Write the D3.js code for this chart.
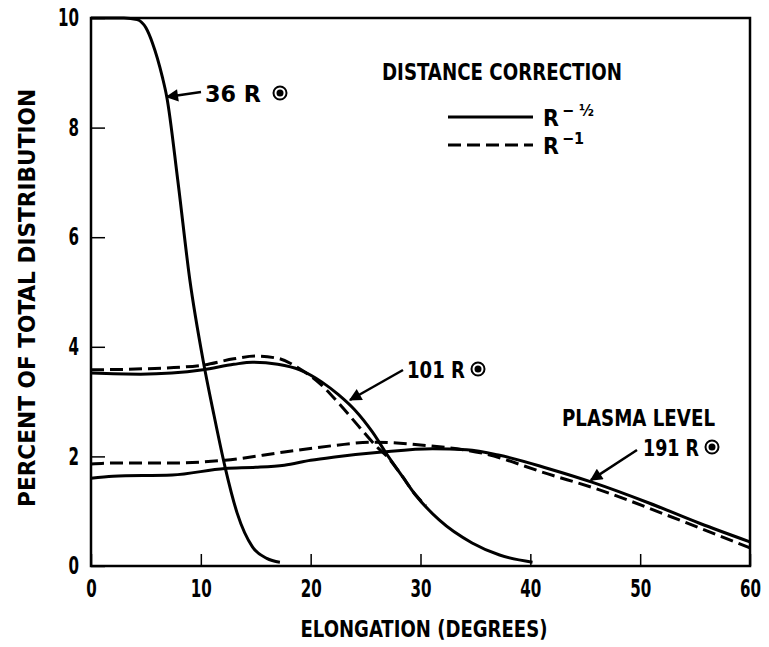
<!DOCTYPE html>
<html>
<head>
<meta charset="utf-8">
<script src="https://cdn.jsdelivr.net/npm/d3@7"></script>
<style>
  body { margin: 0; background: #fff; }
  svg text { font-family: "Liberation Sans Narrow", "DejaVu Sans Condensed", "Arial Narrow", sans-serif; font-weight: bold; fill: #000; }
</style>
</head>
<body>
<div id="vis-holder"></div>
<script>
// elongation (deg) / percent pairs
const r36Solid = [[0,10],[3,10],[4.2,9.97],[5,9.82],[5.6,9.54],[6.5,8.92],[6.9,8.56],[7.9,7.04],[9.0,5.22],[10.2,3.76],[11.2,2.75],[12.2,1.81],[13.3,0.97],[14.7,0.35],[16,0.14],[17.2,0.07]];

const r101Solid = [[0,3.52],[4.5,3.5],[10.2,3.58],[13,3.68],[14.7,3.72],[17,3.68],[19,3.58],[21,3.36],[22.5,3.13],[24,2.85],[25.6,2.45],[27,2.02],[28.4,1.62],[29.5,1.31],[31.7,0.84],[34.7,0.42],[37.2,0.2],[40.2,0.07]];
const r101Dash = [[0,3.58],[5,3.6],[10,3.66],[13,3.78],[15,3.83],[17,3.79],[19,3.6],[21,3.3],[22.6,2.96],[24.5,2.52],[26,2.18],[27,1.99],[28.4,1.62],[29.5,1.31],[30.5,1.1]];

const r191Solid = [[0,1.6],[2,1.64],[7.4,1.66],[12.2,1.78],[15,1.8],[17.6,1.84],[20,1.93],[22.2,1.99],[26.5,2.08],[31.1,2.14],[34.2,2.12],[37.2,2.02],[41.6,1.78],[45.6,1.53],[50.8,1.15],[55.4,0.78],[60,0.44]];
const r191Dash = [[0,1.86],[2,1.88],[7.4,1.88],[12.2,1.93],[17.6,2.08],[22.2,2.2],[25.6,2.26],[30.5,2.2],[35.6,2.06],[41.6,1.68],[46.3,1.39],[52.4,0.93],[60,0.33]];

const xTicks = [0,10,20,30,40,50,60];
const yTicks = [0,2,4,6,8,10];

const width = 769, height = 647;
const margin = { top: 18, right: 19, bottom: 81, left: 91 };

const svg = d3.select("#vis-holder")
  .append("svg")
  .attr("width", width)
  .attr("height", height);

const x = d3.scaleLinear().domain([0,60]).range([margin.left, width - margin.right]);
const y = d3.scaleLinear().domain([0,10]).range([height - margin.bottom, margin.top]);

// arrowhead
svg.append("defs").append("marker")
  .attr("id", "arrow")
  .attr("viewBox", "0 0 10 10")
  .attr("refX", 9).attr("refY", 5)
  .attr("markerWidth", 6).attr("markerHeight", 5)
  .attr("orient", "auto")
  .append("path").attr("d", "M0,0L10,5L0,10Z").attr("fill", "#000");

// frame
svg.append("rect")
  .attr("x", x(0)).attr("y", y(10))
  .attr("width", x(60) - x(0)).attr("height", y(0) - y(10))
  .attr("fill", "none").attr("stroke", "#000").attr("stroke-width", 2.5);

// ticks pointing inward, narrow tall digits
const squeeze = sel => sel.attr("font-size", 24)
  .attr("textLength", function() { return this.textContent.length * 10.5; })
  .attr("lengthAdjust", "spacingAndGlyphs");

svg.append("g")
  .attr("transform", `translate(0,${y(0)})`)
  .call(d3.axisBottom(x).tickValues(xTicks).tickSize(-12).tickPadding(14).tickFormat(d3.format("d")))
  .call(g => g.select(".domain").remove())
  .call(g => g.selectAll("line").attr("stroke-width", 1.5))
  .call(g => g.selectAll("text").call(squeeze));

svg.append("g")
  .attr("transform", `translate(${x(0)},0)`)
  .call(d3.axisLeft(y).tickValues(yTicks).tickSize(-14).tickPadding(12).tickFormat(d3.format("d")))
  .call(g => g.select(".domain").remove())
  .call(g => g.selectAll("line").attr("stroke-width", 1.5))
  .call(g => g.selectAll("text").call(squeeze));

// axis titles
svg.append("text")
  .attr("x", 424).attr("y", 637)
  .attr("text-anchor", "middle")
  .attr("font-size", 23)
  .attr("textLength", 247).attr("lengthAdjust", "spacingAndGlyphs")
  .text("ELONGATION (DEGREES)");

svg.append("text")
  .attr("transform", "translate(35,298) rotate(-90)")
  .attr("text-anchor", "middle")
  .attr("font-size", 23)
  .attr("textLength", 418).attr("lengthAdjust", "spacingAndGlyphs")
  .text("PERCENT OF TOTAL DISTRIBUTION");

// curves
const line = d3.line().x(d => x(d[0])).y(d => y(d[1])).curve(d3.curveMonotoneX);

const series = [
  { data: r36Solid, dash: null },
  { data: r101Solid, dash: null },
  { data: r191Solid, dash: null },
  { data: r101Dash, dash: "13,6" },
  { data: r191Dash, dash: "13,6" }
];

svg.selectAll(".curve")
  .data(series)
  .enter()
  .append("path")
  .attr("class", "curve")
  .attr("d", d => line(d.data))
  .attr("fill", "none")
  .attr("stroke", "#000")
  .attr("stroke-width", 3)
  .attr("stroke-dasharray", d => d.dash);

// sun symbol
function sun(cx, cy) {
  svg.append("circle").attr("cx", cx).attr("cy", cy).attr("r", 6.5)
    .attr("fill", "none").attr("stroke", "#000").attr("stroke-width", 2);
  svg.append("circle").attr("cx", cx).attr("cy", cy).attr("r", 3.5).attr("fill", "#000");
}

function label(txt, tx, ty, len, sx, arrowFrom, arrowTo) {
  svg.append("text").attr("x", tx).attr("y", ty)
    .attr("font-size", 23)
    .attr("textLength", len).attr("lengthAdjust", "spacingAndGlyphs")
    .text(txt);
  if (sx) sun(sx, ty - 9);
  if (arrowFrom) {
    svg.append("line")
      .attr("x1", arrowFrom[0]).attr("y1", arrowFrom[1])
      .attr("x2", arrowTo[0]).attr("y2", arrowTo[1])
      .attr("stroke", "#000").attr("stroke-width", 2.5)
      .attr("marker-end", "url(#arrow)");
  }
}

label("36 R", 205, 102, 56, 280, [201, 92], [x(6.9), y(8.56)]);
label("101 R", 407, 378, 58, 478, [403, 370], [350, 400]);
label("PLASMA LEVEL", 562, 426, 153, null);
label("191 R", 643, 456, 56, 712, [637, 450], [x(45.6) - 1, y(1.53) - 2]);

// legend
svg.append("text").attr("x", 382).attr("y", 80)
  .attr("font-size", 23)
  .attr("textLength", 240).attr("lengthAdjust", "spacingAndGlyphs")
  .text("DISTANCE CORRECTION");

const legend = [
  { dash: null, y: 117, exp: "− ½" },
  { dash: "13,6", y: 145, exp: "−1" }
];
legend.forEach(d => {
  svg.append("line")
    .attr("x1", 448).attr("x2", 533).attr("y1", d.y).attr("y2", d.y)
    .attr("stroke", "#000").attr("stroke-width", 3)
    .attr("stroke-dasharray", d.dash);
  const t = svg.append("text").attr("x", 543).attr("y", d.y + 9).attr("font-size", 23);
  t.append("tspan").text("R");
  t.append("tspan").attr("dx", 3).attr("dy", -10).attr("font-size", 16).text(d.exp);
});
</script>
</body>
</html>
